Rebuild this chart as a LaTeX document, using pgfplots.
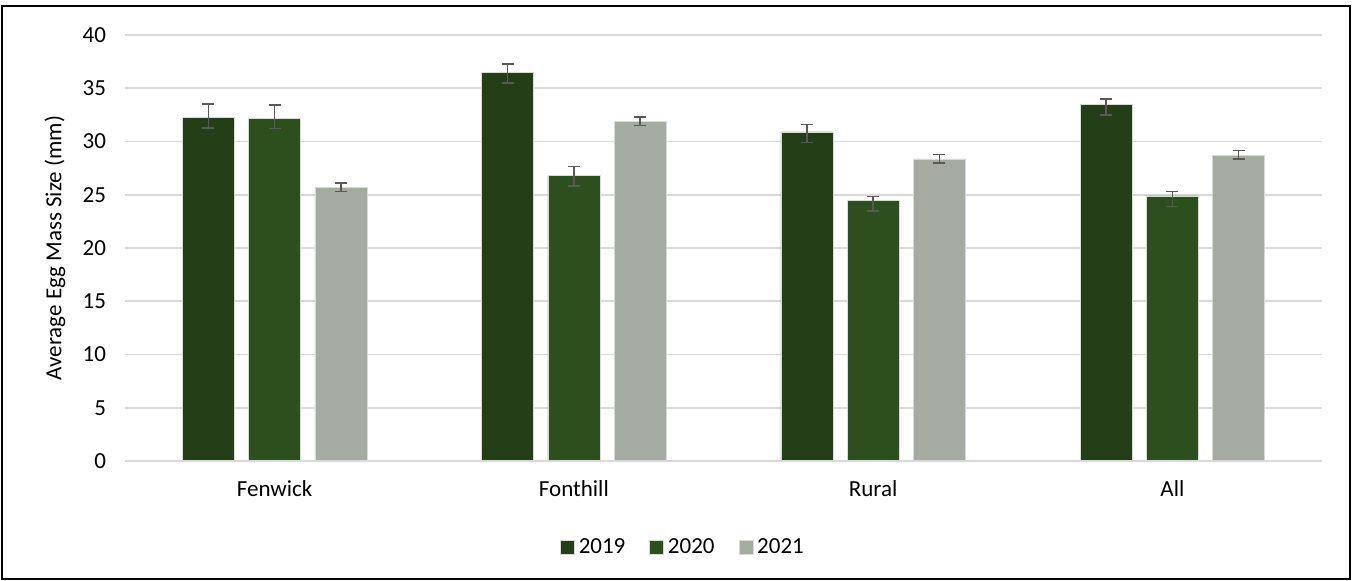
\documentclass[border=0pt]{standalone}
\usepackage{pgfplots}
\pgfplotsset{compat=1.18}
\usepackage{fontspec}
\setmainfont{Carlito}
\definecolor{cA}{HTML}{243F18}
\definecolor{cB}{HTML}{2D4F1E}
\definecolor{cC}{HTML}{A5ABA2}
\definecolor{gridc}{HTML}{D9D9D9}
\definecolor{errc}{HTML}{595959}
\begin{document}
\begin{tikzpicture}
\path[use as bounding box] (0,0) rectangle (676pt,-290pt);
\draw[black, line width=0.8pt] (1pt,-3pt) rectangle (675pt,-289.6pt);
\begin{axis}[
  at={(62.5pt,-230.5pt)}, anchor=south west,
  scale only axis, width=598.5pt, height=213pt,
  ybar=7.15pt, bar width=26pt,
  xmin=-0.5, xmax=3.5, ymin=0, ymax=40,
  xtick={0,1,2,3}, xticklabels={Fenwick,Fonthill,Rural,All},
  ytick={0,5,...,40},
  major tick length=0pt,
  axis line style={draw=none},
  ymajorgrids, grid style={gridc, line width=0.9pt},
  font=\fontsize{11.5pt}{13pt}\selectfont,
  /pgf/number format/assume math mode=true,
  ticklabel style={font=\fontsize{11.5pt}{13pt}\selectfont, text=black},
  xticklabel style={yshift=-6pt},
  yticklabel style={xshift=-6pt},
  ylabel={Average Egg Mass Size (mm)},
  every axis y label/.style={at={(axis description cs:-0.0585,0.5)}, rotate=90, anchor=center},
  legend columns=3,
  legend style={at={(axis description cs:0.467,-0.202)}, anchor=center, draw=none, fill=none,
    font=\fontsize{11.5pt}{13pt}\selectfont,
    /tikz/every even column/.append style={column sep=10pt}},
  legend image code/.code={\fill[#1] (0pt,-3.5pt) rectangle (7pt,3.5pt);},
  error bars/y dir=both, error bars/y explicit,
  error bars/error bar style={errc, line width=0.75pt},
  error bars/error mark options={errc, line width=0.75pt, mark size=3pt, rotate=90},
  clip=false,
]
\addplot[fill=cA, draw=white!85!black, line width=0.3pt] table[x=x, y=y, y error plus=ep, y error minus=em] {
x y ep em
0 32.3 1.2 1.05
1 36.5 0.8 1.0
2 30.9 0.7 1.0
3 33.5 0.5 1.0
};
\addplot[fill=cB, draw=white!85!black, line width=0.3pt] table[x=x, y=y, y error plus=ep, y error minus=em] {
x y ep em
0 32.2 1.25 1.0
1 26.8 0.85 1.0
2 24.47 0.35 1.0
3 24.9 0.4 1.0
};
\addplot[fill=cC, draw=white!85!black, line width=0.3pt] table[x=x, y=y, y error plus=ep, y error minus=em] {
x y ep em
0 25.66 0.45 0.37
1 31.86 0.45 0.37
2 28.36 0.44 0.4
3 28.73 0.44 0.37
};
\draw[gridc, line width=0.9pt] (rel axis cs:0,0) -- (rel axis cs:1,0);
\legend{2019,2020,2021}
\end{axis}
\end{tikzpicture}
\end{document}
